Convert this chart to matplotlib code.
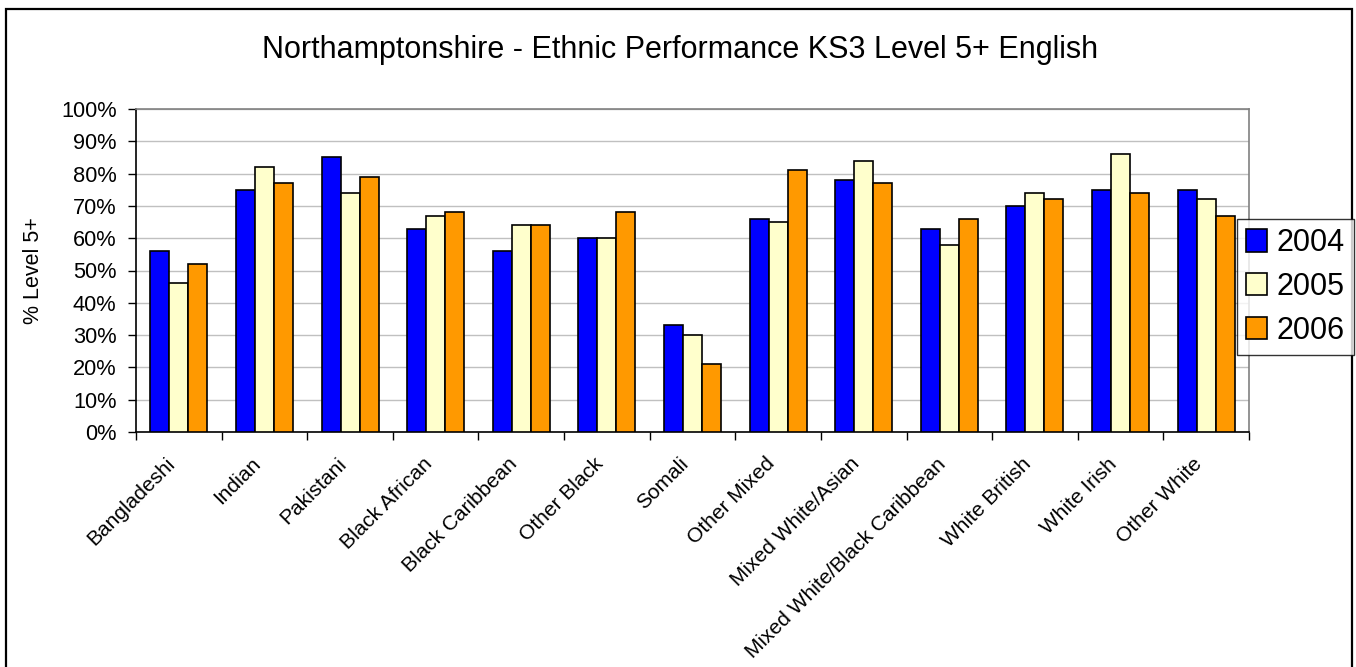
import matplotlib
matplotlib.use("Agg")
import matplotlib.pyplot as plt
import numpy as np
from matplotlib.patches import Rectangle
from matplotlib.ticker import FixedLocator, PercentFormatter

plt.rcParams['font.family'] = ['Liberation Sans', 'DejaVu Sans']

categories = ["Bangladeshi", "Indian", "Pakistani", "Black African", "Black Caribbean",
              "Other Black", "Somali", "Other Mixed", "Mixed White/Asian",
              "Mixed White/Black Caribbean", "White British", "White Irish", "Other White"]
years = ["2004", "2005", "2006"]
values_2004 = [56, 75, 85, 63, 56, 60, 33, 66, 78, 63, 70, 75, 75]
values_2005 = [46, 82, 74, 67, 64, 60, 30, 65, 84, 58, 74, 86, 72]
values_2006 = [52, 77, 79, 68, 64, 68, 21, 81, 77, 66, 72, 74, 67]
colors = ["#0000FF", "#FFFFCC", "#FF9900"]

W, H = 1356, 667
fig = plt.figure(figsize=(W / 100, H / 100), dpi=100)

# outer chart frame
fig.patches.append(Rectangle((5.5 / W, -0.05), (1351.5 - 5.5) / W, 1.05 - 8.5 / H,
                             transform=fig.transFigure, fill=False,
                             edgecolor="black", linewidth=1.6, zorder=0))

ax = fig.add_axes([136 / W, 1 - 432 / H, (1249 - 136) / W, (432 - 109) / H])

x = np.arange(len(categories))
bw = 1 / 4.5
series = [values_2004, values_2005, values_2006]
handles = []
for i, (vals, c) in enumerate(zip(series, colors)):
    b = ax.bar(x + (i - 1) * bw, vals, width=bw, color=c, edgecolor="black",
               linewidth=1.2, zorder=3, label=years[i])
    handles.append(b)

ax.set_xlim(-0.5, len(categories) - 0.5)
ax.set_ylim(0, 100)
ax.yaxis.set_major_locator(FixedLocator(np.arange(0, 101, 10)))
ax.yaxis.set_major_formatter(PercentFormatter(decimals=0))
ax.grid(axis="y", color="#c0c0c0", linewidth=1.0, zorder=0)
ax.set_axisbelow(True)

ax.set_xticks(x)
ax.set_xticklabels(categories, rotation=45, ha="right", va="top",
                   rotation_mode="default", fontsize=15)
ax.set_xticks(np.arange(-0.5, len(categories), 1), minor=True)
ax.tick_params(axis="x", which="major", length=0, pad=16)
ax.tick_params(axis="x", which="minor", length=6, width=1, direction="out", color="black")
ax.tick_params(axis="y", length=6, width=1, direction="out", labelsize=15.7, pad=8)

for s in ["left", "bottom"]:
    ax.spines[s].set_color("black")
    ax.spines[s].set_linewidth(1.2)
for s in ["top", "right"]:
    ax.spines[s].set_color("#808080")
    ax.spines[s].set_linewidth(1.2)

ax.set_ylabel("% Level 5+", fontsize=15.5, labelpad=12)

fig.text(680 / W, 1 - 50 / H, "Northamptonshire - Ethnic Performance KS3 Level 5+ English",
         ha="center", va="center", fontsize=22)

leg = fig.legend(handles=handles, labels=years, loc="upper left",
                 bbox_to_anchor=(1236.5 / W, 1 - 219 / H), fontsize=22,
                 frameon=True, fancybox=False, shadow=False, borderpad=0.3,
                 handlelength=0.7, handleheight=0.75, handletextpad=0.3,
                 labelspacing=0.45, borderaxespad=0)
leg.get_frame().set_edgecolor("black")
leg.get_frame().set_linewidth(1.0)

fig.savefig("out.png", dpi=100)
